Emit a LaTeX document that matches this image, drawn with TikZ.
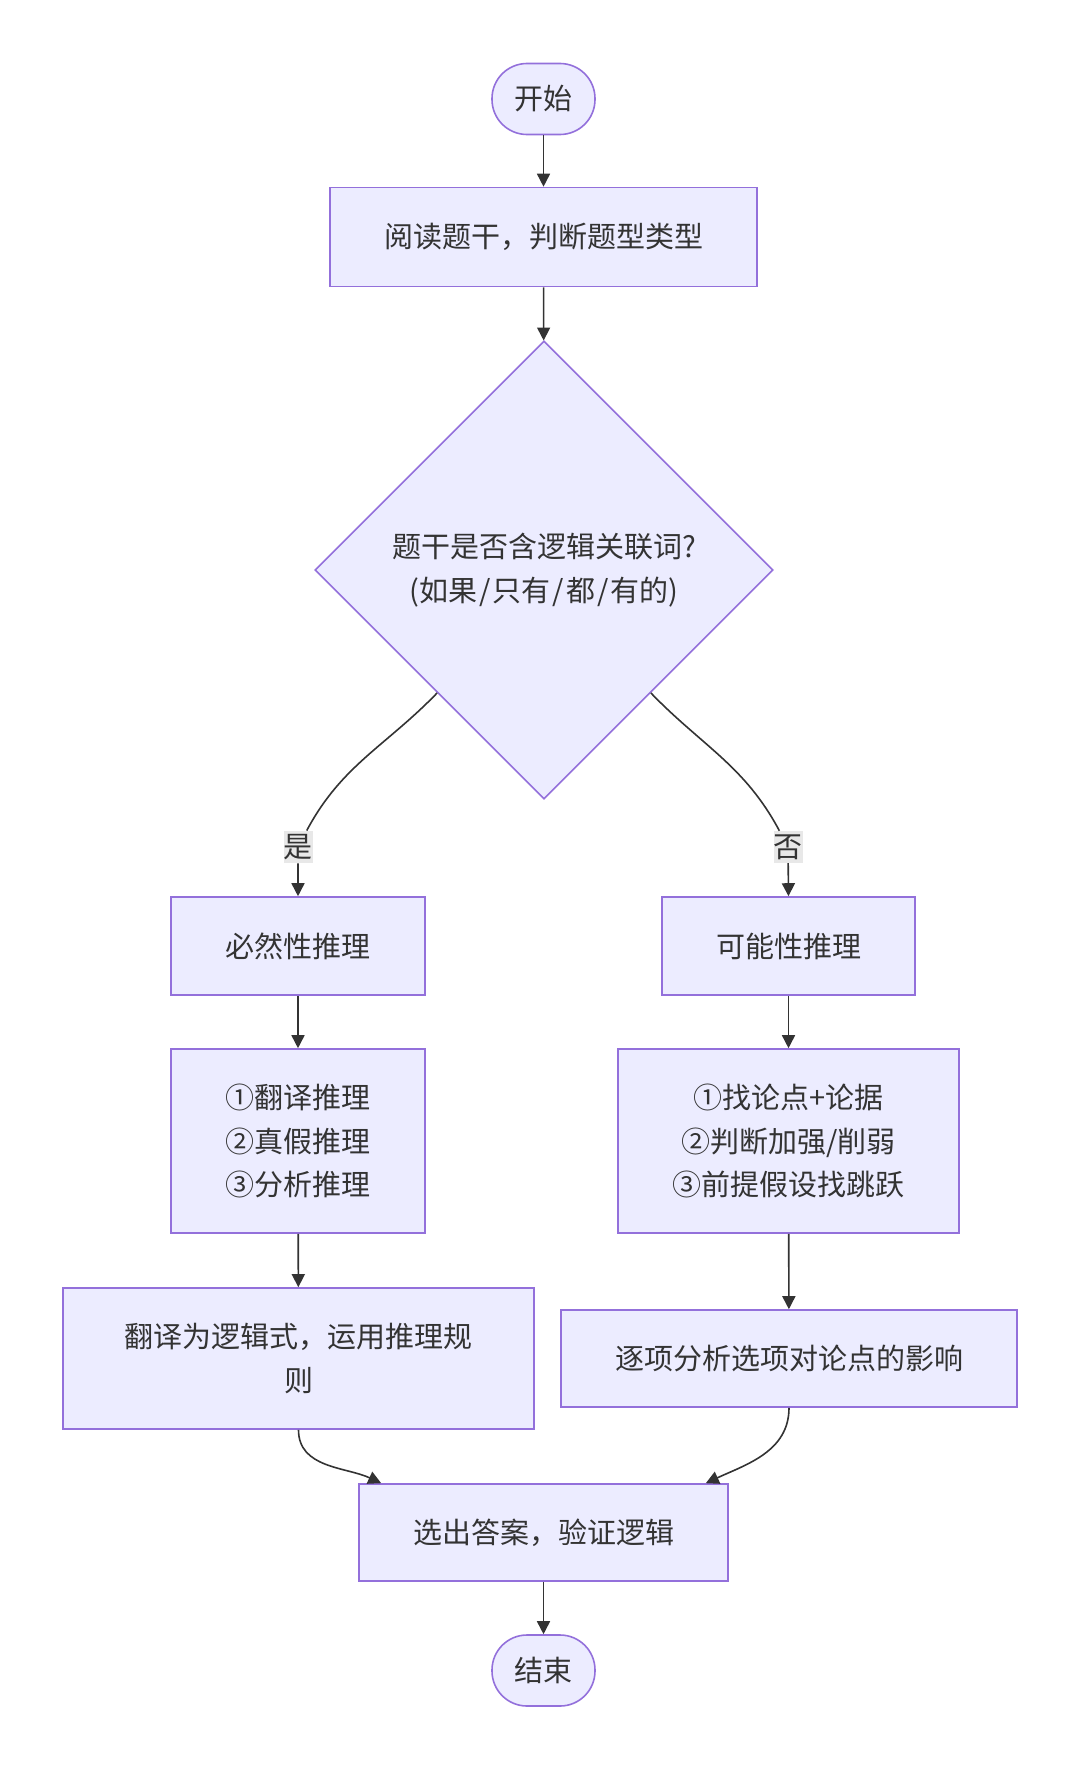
\documentclass[tikz,border=0pt]{standalone}
\usepackage{fontspec}
\newfontfamily\cjk{Noto Sans CJK SC}
\usetikzlibrary{shapes.geometric,arrows.meta}
\definecolor{boxfill}{HTML}{ECECFF}
\definecolor{boxline}{HTML}{9370DB}
\definecolor{txt}{HTML}{333333}
\definecolor{lblbg}{HTML}{E8E8E8}

\begin{document}
\begin{tikzpicture}[x=1pt,y=1pt,
  every node/.style={font=\cjk\fontsize{29}{43.5}\selectfont, text=txt},
  proc/.style={draw=boxline, fill=boxfill, line width=1.6pt, align=center, inner sep=0pt},
  term/.style={proc, rounded corners=35pt, minimum width=103pt, minimum height=71pt},
  cond/.style={proc, diamond, aspect=1, minimum width=458pt, minimum height=458pt},
  lbl/.style={fill=lblbg, inner xsep=0pt, inner ysep=3.5pt},
  flow/.style={draw=txt, line width=1.6pt, -{Triangle[length=13pt,width=13pt]}}]
  \useasboundingbox (0,0) rectangle (1080,-1769);

  % nodes
  \node[term] (start) at (543.5,-99) {开始};
  \node[proc, minimum width=427pt, minimum height=99pt] (read) at (543.5,-237) {阅读题干，判断题型类型};
  \node[cond] (dia) at (544,-570) {题干是否含逻辑关联词?\\(如果\kern2pt/\kern2pt只有\kern2pt/\kern2pt都\kern2pt/\kern2pt有的)};

  \node[proc, minimum width=254pt, minimum height=98pt] (nec) at (298,-946) {必然性推理};
  \node[proc, minimum width=254pt, minimum height=184pt] (nec2) at (298,-1141) {①翻译推理\\②真假推理\\③分析推理};
  \node[proc, minimum width=471pt, minimum height=141pt] (nec3) at (298.5,-1358.5) {翻译为逻辑式，运用推理规\\则};

  \node[proc, minimum width=253pt, minimum height=98pt] (pos) at (788.5,-946) {可能性推理};
  \node[proc, minimum width=341pt, minimum height=184pt] (pos2) at (788.5,-1141) {①找论点+论据\\②判断加强/削弱\\③前提假设找跳跃};
  \node[proc, minimum width=456pt, minimum height=97pt] (pos3) at (789,-1358.5) {逐项分析选项对论点的影响};

  \node[proc, minimum width=369pt, minimum height=97pt] (pick) at (543.5,-1532.5) {选出答案，验证逻辑};
  \node[term] (end) at (543.5,-1670.5) {结束};

  % edge labels
  \node[lbl] (yes) at (298,-847) {是};
  \node[lbl] (no) at (788,-847) {否};

  % connectors
  \draw[flow] (start) -- (read);
  \draw[flow] (read) -- (dia);
  \draw[flow] (dia.229) to[out=226,in=62] (yes) -- (nec.north);
  \draw[flow] (dia.311) to[out=314,in=118] (no) -- (pos.north);
  \draw[flow] (nec) -- (nec2);
  \draw[flow] (nec2) -- (nec3);
  \draw[flow] (pos) -- (pos2);
  \draw[flow] (pos2) -- (pos3);
  \draw[flow] (nec3.south) to[out=-90,in=155] ([xshift=23pt]pick.north west);
  \draw[flow] (pos3.south) to[out=-90,in=25] ([xshift=-23pt]pick.north east);
  \draw[flow] (pick) -- (end);
\end{tikzpicture}
\end{document}
